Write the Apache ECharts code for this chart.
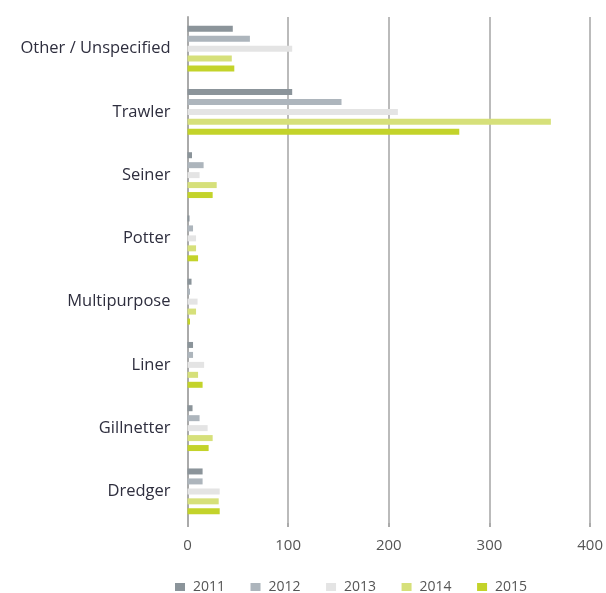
<!DOCTYPE html>
<html><head><meta charset="utf-8">
<script src="https://cdn.jsdelivr.net/npm/echarts@6/dist/echarts.min.js"></script>
<style>html,body{margin:0;padding:0;background:#fff}#c{width:606px;height:593px}</style>
</head><body><div id="c"></div>
<script>
const categories = ['Other / Unspecified','Trawler','Seiner','Potter','Multipurpose','Liner','Gillnetter','Dredger'];
const years = ['2011','2012','2013','2014','2015'];
const v2011 = [45, 104, 4.5, 2, 4, 5.5, 5, 15];
const v2012 = [62, 153, 16, 5.5, 2.5, 5.5, 12, 15];
const v2013 = [104, 209, 12, 8.5, 10, 16.5, 20, 32];
const v2014 = [44, 361, 29, 8.5, 8.5, 10.5, 25, 31];
const v2015 = [46.5, 270, 25, 10.5, 2.5, 15, 21, 32];
const xTicks = [0, 100, 200, 300, 400];
const colors = ['#8b949a', '#adb5bc', '#e4e4e4', '#d6e07a', '#c3d32a'];
const values = [v2011, v2012, v2013, v2014, v2015];
const chart = echarts.init(document.getElementById('c'));
chart.setOption({
  animation: false,
  textStyle: {fontFamily: 'Open Sans'},
  grid: {left: 187.5, right: 15, top: 17, bottom: 70, containLabel: false},
  legend: {
    top: 580, left: 175, padding: 0, itemWidth: 10, itemHeight: 8, itemGap: 25.5,
    icon: 'rect',
    textStyle: {fontSize: 14, lineHeight: 14, color: '#555', fontFamily: 'Open Sans', padding: [0, 0, 0, 3]},
    data: years
  },
  xAxis: {
    type: 'value', min: xTicks[0], max: xTicks[xTicks.length-1], interval: 100,
    axisLine: {show: false},
    axisTick: {show: true, length: 4, lineStyle: {color: '#aaa', width: 2}},
    splitLine: {show: true, lineStyle: {color: '#bbb', width: 2}},
    axisLabel: {fontSize: 15, color: '#555', margin: 15}
  },
  yAxis: {
    type: 'category', data: categories, inverse: true,
    axisLine: {show: true, lineStyle: {color: '#aaa', width: 2}},
    axisTick: {show: false},
    axisLabel: {fontSize: 16.5, color: '#2e2e3e', margin: 17}
  },
  series: years.map((y, i) => ({
    name: y, type: 'bar', data: values[i], barWidth: 6, barGap: '66%',
    itemStyle: {color: colors[i]}
  }))
});
</script></body></html>
